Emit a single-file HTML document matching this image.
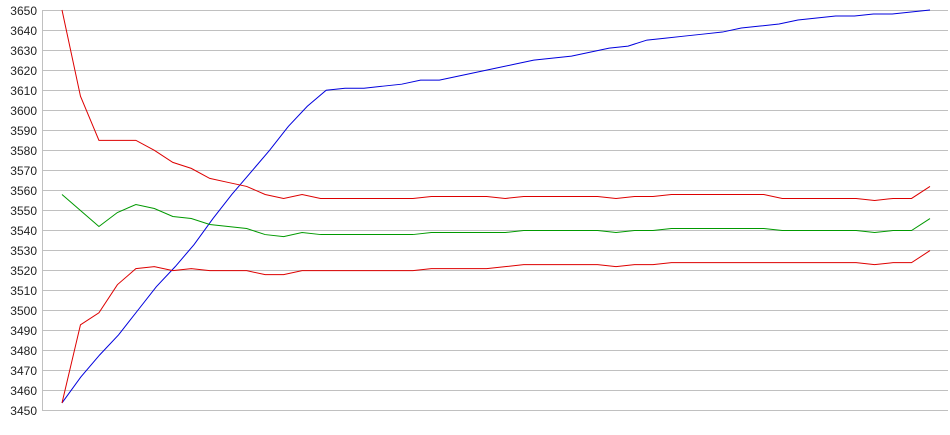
<!DOCTYPE html>
<html><head><meta charset="utf-8"><style>
html,body{margin:0;padding:0;background:#fff;}
svg{display:block;font-family:"Liberation Sans",Arial,sans-serif;}
</style></head><body>
<svg width="950" height="435" xmlns="http://www.w3.org/2000/svg">
<g stroke="#c0c0c0" stroke-width="1">
<line x1="42" y1="10.5" x2="948" y2="10.5"/><line x1="42" y1="30.5" x2="948" y2="30.5"/><line x1="42" y1="50.5" x2="948" y2="50.5"/><line x1="42" y1="70.5" x2="948" y2="70.5"/><line x1="42" y1="90.5" x2="948" y2="90.5"/><line x1="42" y1="110.5" x2="948" y2="110.5"/><line x1="42" y1="130.5" x2="948" y2="130.5"/><line x1="42" y1="150.5" x2="948" y2="150.5"/><line x1="42" y1="170.5" x2="948" y2="170.5"/><line x1="42" y1="190.5" x2="948" y2="190.5"/><line x1="42" y1="210.5" x2="948" y2="210.5"/><line x1="42" y1="230.5" x2="948" y2="230.5"/><line x1="42" y1="250.5" x2="948" y2="250.5"/><line x1="42" y1="270.5" x2="948" y2="270.5"/><line x1="42" y1="290.5" x2="948" y2="290.5"/><line x1="42" y1="310.5" x2="948" y2="310.5"/><line x1="42" y1="330.5" x2="948" y2="330.5"/><line x1="42" y1="350.5" x2="948" y2="350.5"/><line x1="42" y1="370.5" x2="948" y2="370.5"/><line x1="42" y1="390.5" x2="948" y2="390.5"/><line x1="42" y1="410.5" x2="948" y2="410.5"/>
<line x1="42.5" y1="10" x2="42.5" y2="411"/>
</g>
<g font-size="12" fill="#222" text-anchor="end">
<text x="37" y="15">3650</text><text x="37" y="35">3640</text><text x="37" y="55">3630</text><text x="37" y="75">3620</text><text x="37" y="95">3610</text><text x="37" y="115">3600</text><text x="37" y="135">3590</text><text x="37" y="155">3580</text><text x="37" y="175">3570</text><text x="37" y="195">3560</text><text x="37" y="215">3550</text><text x="37" y="235">3540</text><text x="37" y="255">3530</text><text x="37" y="275">3520</text><text x="37" y="295">3510</text><text x="37" y="315">3500</text><text x="37" y="335">3490</text><text x="37" y="355">3480</text><text x="37" y="375">3470</text><text x="37" y="395">3460</text><text x="37" y="415">3450</text>
</g>
<g transform="translate(62,7328.25) scale(18.87,-2.005)" fill="none" stroke-width="1">
<polyline vector-effect="non-scaling-stroke" stroke="#0000dd" points="0,3454 1,3467 2,3478 3,3488 4,3500 5,3512 6,3522 7,3533 8,3546 9,3558 10,3569 11,3580 12,3592 13,3602 14,3610 15,3611 16,3611 17,3612 18,3613 19,3615 20,3615 21,3617 22,3619 23,3621 24,3623 25,3625 26,3626 27,3627 28,3629 29,3631 30,3632 31,3635 32,3636 33,3637 34,3638 35,3639 36,3641 37,3642 38,3643 39,3645 40,3646 41,3647 42,3647 43,3648 44,3648 45,3649 46,3650"/>
<polyline vector-effect="non-scaling-stroke" stroke="#dd0000" points="0,3650 1,3607 2,3585 3,3585 4,3585 5,3580 6,3574 7,3571 8,3566 9,3564 10,3562 11,3558 12,3556 13,3558 14,3556 15,3556 16,3556 17,3556 18,3556 19,3556 20,3557 21,3557 22,3557 23,3557 24,3556 25,3557 26,3557 27,3557 28,3557 29,3557 30,3556 31,3557 32,3557 33,3558 34,3558 35,3558 36,3558 37,3558 38,3558 39,3556 40,3556 41,3556 42,3556 43,3556 44,3555 45,3556 46,3556 47,3562" transform="scale(0.9787,1)"/>
<polyline vector-effect="non-scaling-stroke" stroke="#009900" points="0,3558 1,3550 2,3542 3,3549 4,3553 5,3551 6,3547 7,3546 8,3543 9,3542 10,3541 11,3538 12,3537 13,3539 14,3538 15,3538 16,3538 17,3538 18,3538 19,3538 20,3539 21,3539 22,3539 23,3539 24,3539 25,3540 26,3540 27,3540 28,3540 29,3540 30,3539 31,3540 32,3540 33,3541 34,3541 35,3541 36,3541 37,3541 38,3541 39,3540 40,3540 41,3540 42,3540 43,3540 44,3539 45,3540 46,3540 47,3546" transform="scale(0.9787,1)"/>
<polyline vector-effect="non-scaling-stroke" stroke="#dd0000" points="0,3454 1,3493 2,3499 3,3513 4,3521 5,3522 6,3520 7,3521 8,3520 9,3520 10,3520 11,3518 12,3518 13,3520 14,3520 15,3520 16,3520 17,3520 18,3520 19,3520 20,3521 21,3521 22,3521 23,3521 24,3522 25,3523 26,3523 27,3523 28,3523 29,3523 30,3522 31,3523 32,3523 33,3524 34,3524 35,3524 36,3524 37,3524 38,3524 39,3524 40,3524 41,3524 42,3524 43,3524 44,3523 45,3524 46,3524 47,3530" transform="scale(0.9787,1)"/>
</g>
</svg>
</body></html>
